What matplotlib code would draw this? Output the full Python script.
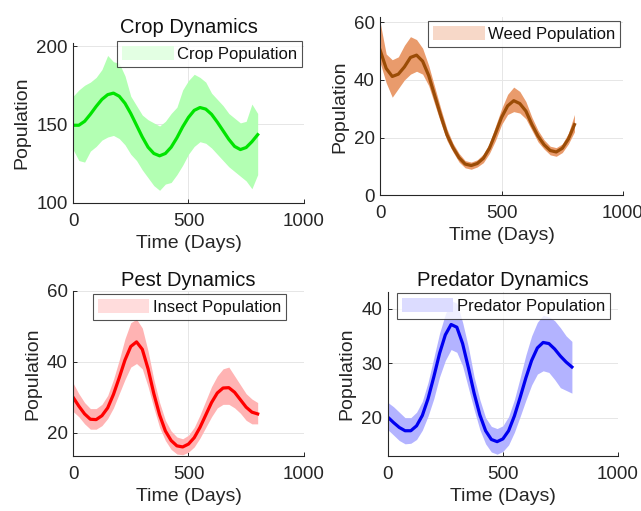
import matplotlib
matplotlib.use("Agg")
import matplotlib.pyplot as plt
from matplotlib.patches import Patch

plt.rcParams['font.family'] = ['Liberation Sans', 'DejaVu Sans']

# time axis (days), sampled every 25 days
days = list(range(0, 801, 25))

# crop population: mean curve and noisy band edges
crop_mean = [149.5, 149.5, 152, 156.5, 161.5, 166, 169, 170, 168, 163.5, 157, 149.5, 142,
             135.5, 131.5, 130, 131.5, 135.5, 141.5, 148.5, 154.5, 159, 160.8, 159.8, 156.5,
             151.5, 146, 140.5, 136, 134, 135.3, 139, 143.5]
crop_upper = [168, 172, 175, 177, 180, 185, 194, 190, 189, 181, 168, 162, 156,
              153, 151, 149, 152, 157, 161, 172, 178, 182, 180, 177, 170,
              166, 162, 157, 154, 151, 152, 163, 157]
crop_lower = [134, 127, 126, 133, 136, 140, 142, 143, 141, 137, 131, 127, 121,
              116, 111, 108, 112, 113, 118, 124, 131, 136, 139, 138, 135,
              131, 127, 123, 120, 117, 114, 109, 118]

# weed population
weed_mean = [50.3, 44, 41.2, 42, 44.5, 47.8, 48.6, 46.5, 41.5, 34.5, 27.5, 21, 16.5,
             13, 10.8, 10.3, 11, 12.8, 16.3, 21.5, 27, 31, 32.8, 31.8, 29.2,
             24.5, 20.5, 17.5, 15.5, 15, 16.3, 19.5, 24.5]
weed_upper = [60, 49, 47, 48, 52, 55, 54, 51, 45, 37.5, 30, 23, 18,
              14.5, 12, 11.5, 12.3, 14.3, 18, 24, 30, 35, 37.5, 36, 32.5,
              27, 22.5, 19.2, 17, 16.5, 17.8, 21.5, 28]
weed_lower = [46, 39, 34, 37, 40, 42, 43, 42, 38, 31.5, 25, 19, 15,
              11.5, 9.5, 9, 9.8, 11.3, 14.5, 19, 24.5, 28, 29, 28.5, 26.5,
              22.5, 18.5, 16, 14, 13.5, 14.8, 17.8, 22]

# insect (pest) population
insect_mean = [30, 27.5, 25.3, 23.8, 23.7, 24.8, 27, 30.8, 35.5, 40.5, 44.3, 45.6, 43.5,
               38, 31, 25, 20.5, 17.8, 16.3, 16, 16.8, 18.6, 21.5, 25, 28.5,
               31.2, 32.6, 32.7, 31.4, 29.3, 27.2, 25.8, 25.3]
insect_upper = [34, 31, 28.5, 26.8, 26.8, 28, 30.5, 35, 40.5, 46.5, 51, 52, 49.5,
                43, 35, 28.5, 23.5, 20.5, 18.8, 18.3, 19.3, 21.5, 25, 29, 33,
                36, 38, 38.5, 36, 33.5, 31, 29.5, 28.5]
insect_lower = [26, 24.5, 22.5, 21, 21, 22, 24, 27, 31, 35, 38.5, 39.5, 38,
                33, 27, 21.5, 17.8, 15.3, 14, 13.8, 14.5, 16, 18.5, 21.5, 24.5,
                27, 28, 28, 27, 25.5, 23.5, 22.5, 22.5]

# predator population
pred_mean = [20.1, 19.1, 18.2, 17.6, 17.6, 18.5, 20.4, 23.5, 27.5, 31.8, 35.2, 37.1, 36.6,
             33.6, 29.2, 24.5, 20.5, 17.6, 16, 15.6, 16.1, 17.6, 20.3, 23.7, 27.3,
             30.5, 32.8, 33.8, 33.6, 32.6, 31.3, 30.2, 29.3]
pred_upper = [22.8, 22, 21, 20, 20, 21, 23, 26.5, 31, 35.5, 39, 41.5, 41,
              37.5, 33, 27.5, 23.3, 20, 18.4, 18, 18.5, 20.2, 23.3, 27.3, 31.5,
              35, 37.5, 38.8, 38.5, 37.8, 36.5, 35, 34]
pred_lower = [17.8, 16.8, 15.8, 15.2, 15.3, 16, 17.7, 20.3, 23.5, 27.5, 30.5, 32.5, 32,
              29.5, 25.5, 21.5, 17.8, 15.2, 13.7, 13.3, 13.8, 15, 17.3, 20.2, 23.2,
              26, 28, 28.6, 28.3, 27, 25.5, 25, 24.5]

panels = [
    # rect, title, mean, upper, lower, line, band, legend patch, label, ylim, yticks, legend anchor, title pad
    ([0.114, 0.603, 0.360, 0.313], 'Crop Dynamics', crop_mean, crop_upper, crop_lower,
     '#00e400', '#b3ffb3', '#e3ffe3', 'Crop Population', (100, 202), [100, 150, 200],
     (0.993, 1.013), 7.5),
    ([0.593, 0.618, 0.379, 0.348], None, weed_mean, weed_upper, weed_lower,
     '#9b4c06', '#e99b6c', '#f7d8c8', 'Weed Population', (0, 61.7), [0, 20, 40, 60],
     (0.988, 0.979), 6),
    ([0.114, 0.108, 0.360, 0.323], 'Pest Dynamics', insect_mean, insect_upper, insect_lower,
     '#ff0000', '#ffb3b3', '#ffdcdc', 'Insect Population', (13.5, 60), [20, 40, 60],
     (0.922, 0.98), 3.5),
    ([0.605, 0.108, 0.359, 0.321], 'Predator Dynamics', pred_mean, pred_upper, pred_lower,
     '#0000f0', '#b3b3ff', '#dcdcff', 'Predator Population', (13, 43.1), [20, 30, 40],
     (0.965, 0.992), 4.3),
]

fig = plt.figure(figsize=(6.41, 5.11), dpi=100)

for rect, title, mean, upper, lower, lc, bc, pc, lab, ylim, yt, anchor, tpad in panels:
    ax = fig.add_axes(rect)
    ax.fill_between(days, lower, upper, color=bc, lw=0)
    ax.plot(days, mean, color=lc, lw=2.3)
    ax.set_xlim(0, 1000)
    ax.set_ylim(*ylim)
    ax.set_xticks([0, 500, 1000])
    ax.set_yticks(yt)
    ax.grid(True, color='#e6e6e6', lw=0.7)
    ax.set_axisbelow(True)
    for s in ['top', 'right']:
        ax.spines[s].set_visible(False)
    for s in ['left', 'bottom']:
        ax.spines[s].set_color('#262626')
        ax.spines[s].set_linewidth(0.8)
    ax.tick_params(direction='in', length=3, width=0.7, color='#262626',
                   labelcolor='#262626', labelsize=13.5)
    ax.tick_params(axis='x', pad=7)
    ax.tick_params(axis='y', pad=4)
    ax.set_xlabel('Time (Days)', fontsize=14, color='#262626', labelpad=4)
    ax.set_ylabel('Population', fontsize=14, color='#262626', labelpad=4)
    if title:
        ax.set_title(title, fontsize=14.5, color='#111111', pad=tpad)
    leg = ax.legend(handles=[Patch(facecolor=pc, edgecolor='none', label=lab)],
                    loc='upper right', bbox_to_anchor=anchor, borderaxespad=0,
                    fontsize=12, frameon=True, fancybox=False, borderpad=0.3,
                    handlelength=3.1, handleheight=0.9, handletextpad=0.2)
    leg.get_frame().set_edgecolor('#262626')
    leg.get_frame().set_linewidth(0.8)
    for t in leg.get_texts():
        t.set_color('#111111')

fig.savefig('out.png', dpi=100)
